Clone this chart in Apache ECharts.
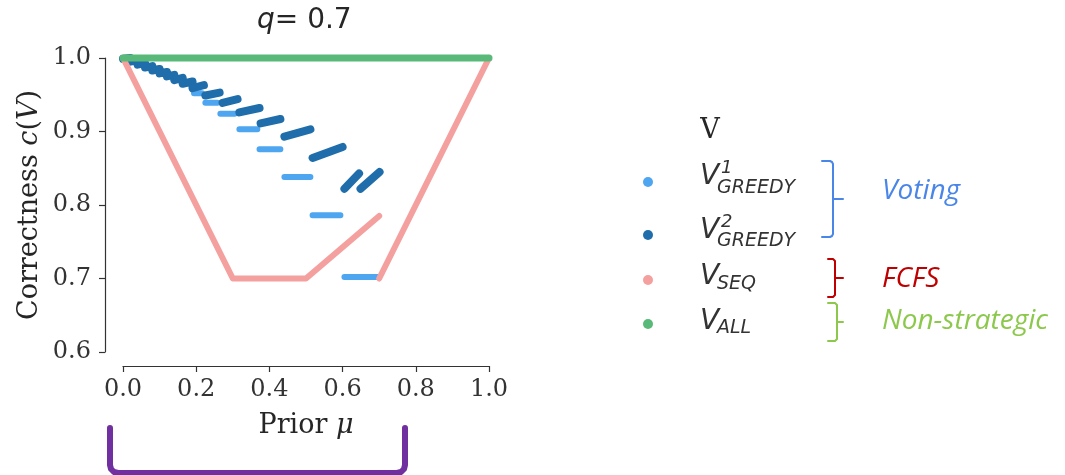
<!DOCTYPE html>
<html>
<head>
<meta charset="utf-8">
<script src="https://cdn.jsdelivr.net/npm/echarts@6/dist/echarts.min.js"></script>
<style>
  html, body { margin: 0; padding: 0; background: #fff; }
  #chart { width: 1065px; height: 475px; }
</style>
</head>
<body>
<div id="chart"></div>
<script>
// x / y ticks
var xTicks = [0, 0.2, 0.4, 0.6, 0.8, 1.0];
var yTicks = [0.6, 0.7, 0.8, 0.9, 1.0];

// V1 greedy : flat steps [x0, y0, x1, y1]
var greedy1Segs = [
  [0.194, 0.952, 0.216, 0.952],
  [0.225, 0.939, 0.258, 0.939],
  [0.266, 0.924, 0.305, 0.924],
  [0.318, 0.903, 0.367, 0.903],
  [0.373, 0.876, 0.430, 0.876],
  [0.441, 0.838, 0.512, 0.838],
  [0.518, 0.786, 0.594, 0.786],
  [0.605, 0.702, 0.700, 0.702]
];

// V2 greedy : rising teeth [x0, y0, x1, y1]
var greedy2Segs = [
  [0.000, 0.999, 0.020, 1.000],
  [0.020, 0.995, 0.040, 0.997],
  [0.040, 0.991, 0.060, 0.993],
  [0.060, 0.987, 0.080, 0.989],
  [0.080, 0.983, 0.100, 0.985],
  [0.100, 0.979, 0.120, 0.981],
  [0.120, 0.975, 0.140, 0.977],
  [0.140, 0.970, 0.163, 0.973],
  [0.163, 0.965, 0.190, 0.968],
  [0.190, 0.959, 0.221, 0.963],
  [0.225, 0.949, 0.264, 0.953],
  [0.272, 0.939, 0.313, 0.944],
  [0.318, 0.926, 0.373, 0.932],
  [0.376, 0.911, 0.430, 0.917],
  [0.441, 0.893, 0.512, 0.903],
  [0.518, 0.864, 0.600, 0.879],
  [0.605, 0.822, 0.645, 0.843],
  [0.649, 0.822, 0.701, 0.845]
];

// V_SEQ : two pieces
var seqPart1 = [[0, 1.0], [0.3, 0.7], [0.5, 0.7], [0.7, 0.785]];
var seqPart2 = [[0.7, 0.7], [1.0, 1.0]];

// V_ALL
var allLine = [[0, 1.0], [1.0, 1.0]];

var colors = {
  g1: '#4ea5f0',
  g2: '#1f6eab',
  seq: '#f4a09f',
  all: '#58b978'
};

// 선분 배열 -> 끊어진 라인 데이터
function segsToData(segs) {
  var out = [];
  segs.forEach(function(s, i) {
    if (i > 0) out.push([s[0], '-']);
    out.push([s[0], s[1]]);
    out.push([s[2], s[3]]);
  });
  return out;
}

function partsToData(parts) {
  var out = [];
  parts.forEach(function(p, i) {
    if (i > 0) out.push([p[0][0], '-']);
    p.forEach(function(pt) { out.push(pt); });
  });
  return out;
}

function lineSeries(name, data, color, width) {
  return {
    name: name,
    type: 'line',
    data: data,
    showSymbol: false,
    connectNulls: false,
    clip: false,
    silent: true,
    itemStyle: { color: color },
    lineStyle: { color: color, width: width, cap: 'round', join: 'round' }
  };
}

var chart = echarts.init(document.getElementById('chart'));

var serifFont = 'DejaVu Serif';
var sansFont = 'DejaVu Sans';
var noteFont = 'Open Sans';

function legendAt(name, top) {
  return {
    data: [name],
    left: 643,
    top: top,
    padding: 0,
    icon: 'circle',
    itemWidth: 10,
    itemHeight: 10,
    selectedMode: false,
    formatter: function() { return ''; },
    textStyle: { fontSize: 10, lineHeight: 10 }
  };
}

function txt(text, x, y, size, color, family, style, align) {
  return {
    type: 'text',
    x: x,
    y: y,
    silent: true,
    style: {
      text: text,
      fill: color,
      fontSize: size,
      fontFamily: family,
      fontStyle: style || 'normal',
      fontWeight: 'normal',
      align: align || 'left',
      textAlign: align || 'left',
      verticalAlign: 'middle',
      textVerticalAlign: 'middle'
    }
  };
}

// 괄호 모양 (polyline)
function brace(points, color, width) {
  return {
    type: 'polyline',
    silent: true,
    shape: { points: points },
    style: { fill: null, stroke: color, lineWidth: width, lineCap: 'round', lineJoin: 'round' }
  };
}

function bar(x1, y1, x2, y2, color, width) {
  return {
    type: 'line',
    silent: true,
    shape: { x1: x1, y1: y1, x2: x2, y2: y2 },
    style: { stroke: color, lineWidth: width, lineCap: 'round' }
  };
}

var option = {
  animation: false,
  backgroundColor: '#fff',
  title: {
    text: '{q|q}{r|= 0.7}',
    left: 257,
    top: 7,
    padding: 0,
    textStyle: {
      rich: {
        q: { fontFamily: sansFont, fontStyle: 'italic', fontWeight: 'normal', fontSize: 28, color: '#262626' },
        r: { fontFamily: sansFont, fontWeight: 'normal', fontSize: 28, color: '#262626' }
      }
    }
  },
  grid: { left: 123, top: 58, width: 366, height: 294 },
  xAxis: {
    type: 'value',
    min: xTicks[0],
    max: xTicks[xTicks.length - 1],
    interval: 0.2,
    offset: 14,
    name: '{a|Prior }{b|μ}',
    nameLocation: 'middle',
    nameGap: 46,
    nameTextStyle: {
      rich: {
        a: { fontFamily: serifFont, fontSize: 27, color: '#262626' },
        b: { fontFamily: serifFont, fontStyle: 'italic', fontSize: 27, color: '#262626' }
      }
    },
    axisLine: { onZero: false, lineStyle: { color: '#333', width: 1.2 } },
    axisTick: { length: 6, lineStyle: { color: '#333', width: 1.2 } },
    axisLabel: {
      margin: 12,
      fontFamily: serifFont,
      fontSize: 24,
      color: '#333',
      formatter: function(v) { return v.toFixed(1); }
    },
    splitLine: { show: false }
  },
  yAxis: {
    type: 'value',
    min: yTicks[0],
    max: yTicks[yTicks.length - 1],
    interval: 0.1,
    offset: 18,
    name: '{a|Correctness }{b|c}{a|(}{b|V}{a|)}',
    nameLocation: 'middle',
    nameGap: 62,
    nameRotate: 90,
    nameTextStyle: {
      rich: {
        a: { fontFamily: serifFont, fontSize: 27, color: '#262626' },
        b: { fontFamily: serifFont, fontStyle: 'italic', fontSize: 27, color: '#262626' }
      }
    },
    axisLine: { show: true, onZero: false, lineStyle: { color: '#333', width: 1.2 } },
    axisTick: { show: true, length: 6, lineStyle: { color: '#333', width: 1.2 } },
    axisLabel: {
      margin: 14,
      fontFamily: serifFont,
      fontSize: 24,
      color: '#333',
      formatter: function(v) { return v.toFixed(1); }
    },
    splitLine: { show: false }
  },
  legend: [
    legendAt('V1 GREEDY', 177),
    legendAt('V2 GREEDY', 230),
    legendAt('V SEQ', 275),
    legendAt('V ALL', 319)
  ],
  series: [
    lineSeries('V1 GREEDY', segsToData(greedy1Segs), colors.g1, 6),
    lineSeries('V2 GREEDY', segsToData(greedy2Segs), colors.g2, 8),
    lineSeries('V SEQ', partsToData([seqPart1, seqPart2]), colors.seq, 6),
    lineSeries('V ALL', allLine, colors.all, 7)
  ],
  graphic: [
    // 범례 제목
    txt('V', 710, 131, 27, '#262626', serifFont, 'normal', 'center'),
    // 범례 라벨
    txt('V', 700, 177, 28, '#333', sansFont, 'italic'),
    txt('1', 721, 168, 18, '#333', sansFont, 'italic'),
    txt('GREEDY', 717, 188, 19, '#333', sansFont, 'italic'),
    txt('V', 700, 231, 28, '#333', sansFont, 'italic'),
    txt('2', 721, 222, 18, '#333', sansFont, 'italic'),
    txt('GREEDY', 717, 241, 19, '#333', sansFont, 'italic'),
    txt('V', 700, 277, 28, '#333', sansFont, 'italic'),
    txt('SEQ', 717, 284, 19, '#333', sansFont, 'italic'),
    txt('V', 700, 322, 28, '#333', sansFont, 'italic'),
    txt('ALL', 717, 328, 19, '#333', sansFont, 'italic'),
    // 중괄호
    brace([[822, 161], [830, 161], [832, 162], [833, 164], [833, 234], [832, 236], [830, 237], [822, 237]], '#4a86e8', 2),
    bar(833, 199, 843, 199, '#4a86e8', 2),
    brace([[828, 259], [833, 259], [835, 261], [835, 295], [833, 297], [828, 297]], '#c00000', 2),
    bar(835, 278, 843, 278, '#c00000', 2),
    brace([[828, 303], [835, 303], [837, 305], [837, 339], [835, 341], [828, 341]], '#8cc84b', 2),
    bar(837, 322, 843, 322, '#8cc84b', 2),
    txt('Voting', 882, 191, 28, '#4a86e8', noteFont, 'italic'),
    txt('FCFS', 882, 279, 28, '#c00000', noteFont, 'italic'),
    txt('Non-strategic', 882, 321, 28, '#8cc84b', noteFont, 'italic'),
    // 아래 보라색 괄호
    brace([[110, 428], [110, 465], [111, 469], [114, 472], [118, 473], [397, 473], [401, 472], [404, 469], [405, 465], [405, 428]], '#7030a0', 6)
  ]
};

chart.setOption(option);
</script>
</body>
</html>
